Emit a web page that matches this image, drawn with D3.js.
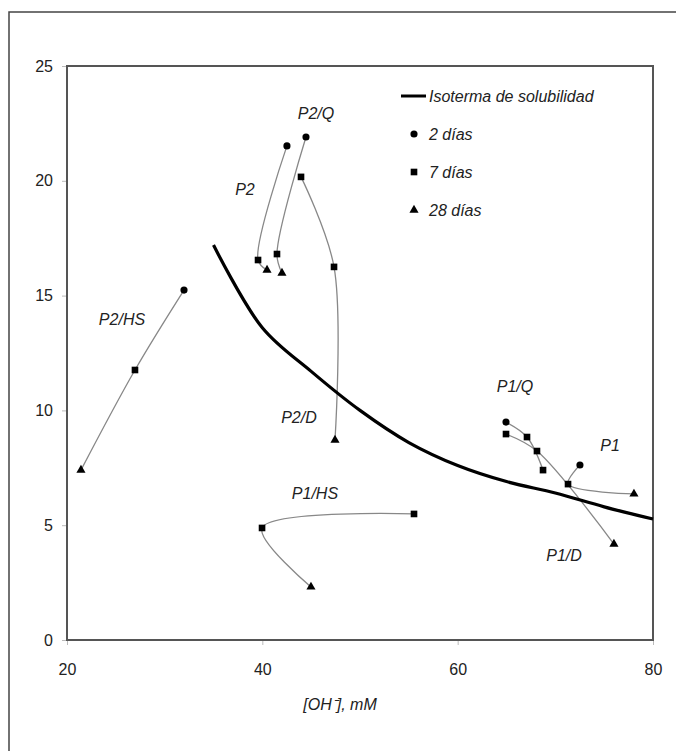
<!DOCTYPE html>
<html>
<head>
<meta charset="utf-8">
<script src="https://cdn.jsdelivr.net/npm/d3@7"></script>
<style>
  html, body { margin: 0; padding: 0; background: #fff; }
  svg { display: block; }
  text { font-family: "Liberation Sans Narrow", "Arial Narrow", "Liberation Sans", Arial, sans-serif; fill: #222; }
</style>
</head>
<body>
<svg id="chart" width="676" height="751"></svg>
<script>
// ---------- data ----------
const xTicks = [20, 40, 60, 80];
const yTicks = [0, 5, 10, 15, 20, 25];

// solubility isotherm
const isoX = [35, 40, 45, 50, 55, 60, 65, 70, 75, 80];
const isoY = [17.2, 13.6, 11.7, 10.0, 8.6, 7.6, 6.9, 6.4, 5.8, 5.27];

// series (x = [OH-] mM, y = value, days = age marker)
const seriesNames = ["P2/HS", "P2", "P2/Q", "P2/D", "P1/HS", "P1/Q", "P1/D", "P1"];
const p2hsX = [31.98, 26.96, 21.43]; const p2hsY = [15.24, 11.76, 7.40]; const p2hsD = [2, 7, 28];
const p2X   = [42.52, 39.56, 40.48]; const p2Y   = [21.52, 16.55, 16.11]; const p2D   = [2, 7, 28];
const p2qX  = [44.47, 41.50, 42.01]; const p2qY  = [21.91, 16.81, 15.98]; const p2qD  = [2, 7, 28];
const p2dX  = [43.96, 47.34, 47.44]; const p2dY  = [20.17, 16.25, 8.71];  const p2dD  = [7, 7, 28];
const p1hsX = [55.53, 39.97, 44.98]; const p1hsY = [5.49, 4.88, 2.31];    const p1hsD = [7, 7, 28];
const p1qX  = [64.95, 67.10, 68.74]; const p1qY  = [9.49, 8.84, 7.40];    const p1qD  = [2, 7, 7];
const p1dX  = [64.95, 68.12, 76.00]; const p1dY  = [8.97, 8.23, 4.18];    const p1dD  = [7, 7, 28];
const p1X   = [72.52, 71.30, 78.05]; const p1Y   = [7.62, 6.79, 6.36];    const p1D   = [2, 7, 28];

// annotation labels (anchored in data units)
const labelX = [25.63, 38.22, 45.49, 43.75, 45.39, 65.87, 70.89, 75.60];
const labelY = [13.94, 19.60, 22.95, 9.71, 6.40, 11.06, 3.66, 8.45];

const legendLabels = ["Isoterma de solubilidad", "2 días", "7 días", "28 días"];
const xTitle = "[OH⁻], mM";

// ---------- drawing ----------
const svg = d3.select("#chart");

// outer frame
svg.append("rect").attr("x", 9).attr("y", 12).attr("width", 720).attr("height", 800)
  .attr("fill", "none").attr("stroke", "#444").attr("stroke-width", 1.5);

const x = d3.scaleLinear().domain([20, 80]).range([67, 653]);
const y = d3.scaleLinear().domain([0, 25]).range([640, 66]);

// y axis
const gy = svg.append("g").attr("transform", `translate(${x(20)},0)`)
  .call(d3.axisLeft(y).tickValues(yTicks).tickSize(5).tickPadding(9).tickFormat(d3.format("d")));
gy.select(".domain").remove();
gy.selectAll(".tick line").attr("stroke", "#bbb");
gy.selectAll("text").attr("font-size", 16).attr("fill", "#222");

// x axis
const gx = svg.append("g").attr("transform", `translate(0,${y(0)})`)
  .call(d3.axisBottom(x).tickValues(xTicks).tickSize(5).tickPadding(19).tickFormat(d3.format("d")));
gx.select(".domain").remove();
gx.selectAll(".tick line").attr("stroke", "#bbb");
gx.selectAll("text").attr("font-size", 16).attr("fill", "#222");

// plot box
svg.append("rect")
  .attr("x", x(20)).attr("y", y(25))
  .attr("width", x(80) - x(20)).attr("height", y(0) - y(25))
  .attr("fill", "none").attr("stroke", "#555").attr("stroke-width", 2);

// series lines
const allSeries = [
  [p2hsX, p2hsY, p2hsD], [p2X, p2Y, p2D], [p2qX, p2qY, p2qD], [p2dX, p2dY, p2dD],
  [p1hsX, p1hsY, p1hsD], [p1qX, p1qY, p1qD], [p1dX, p1dY, p1dD], [p1X, p1Y, p1D]
];
const line = d3.line().x(d => x(d[0])).y(d => y(d[1])).curve(d3.curveCatmullRom.alpha(0.5));

allSeries.forEach(([xs, ys]) => {
  const pts = xs.map((v, i) => [v, ys[i]]);
  svg.append("path").attr("d", line(pts)).attr("fill", "none")
    .attr("stroke", "#888").attr("stroke-width", 1.3);
});

// isotherm
const isoPts = isoX.map((v, i) => [v, isoY[i]]);
svg.append("path").attr("d", line(isoPts)).attr("fill", "none")
  .attr("stroke", "#000").attr("stroke-width", 3.2);

// markers
const sym = {
  2: d3.symbol().type(d3.symbolCircle).size(40),
  7: d3.symbol().type(d3.symbolSquare).size(44),
  28: d3.symbol().type(d3.symbolTriangle).size(36)
};
allSeries.forEach(([xs, ys, ds]) => {
  xs.forEach((v, i) => {
    svg.append("path").attr("d", sym[ds[i]]())
      .attr("transform", `translate(${x(v)},${y(ys[i])})`)
      .attr("fill", "#000");
  });
});

// annotation labels
seriesNames.forEach((name, i) => {
  svg.append("text").attr("x", x(labelX[i])).attr("y", y(labelY[i]))
    .attr("text-anchor", "middle").attr("dominant-baseline", "central")
    .attr("font-size", 16).attr("font-style", "italic").attr("fill", "#333")
    .text(name);
});

// legend
const lg = svg.append("g");
lg.append("line").attr("x1", 401).attr("x2", 426).attr("y1", 96).attr("y2", 96)
  .attr("stroke", "#000").attr("stroke-width", 3);
const legY = [96, 134, 172, 210];
const legDays = [null, 2, 7, 28];
legendLabels.forEach((t, i) => {
  lg.append("text").attr("x", 429).attr("y", legY[i]).attr("dominant-baseline", "central")
    .attr("font-size", 16).attr("font-style", "italic").attr("fill", "#333").text(t);
  if (legDays[i]) {
    lg.append("path").attr("d", sym[legDays[i]]())
      .attr("transform", `translate(414,${legY[i]})`).attr("fill", "#000");
  }
});

// x title
svg.append("text").attr("x", 340).attr("y", 704).attr("text-anchor", "middle")
  .attr("dominant-baseline", "central").attr("font-size", 16).attr("font-style", "italic")
  .attr("fill", "#222").text(xTitle);
</script>
</body>
</html>
